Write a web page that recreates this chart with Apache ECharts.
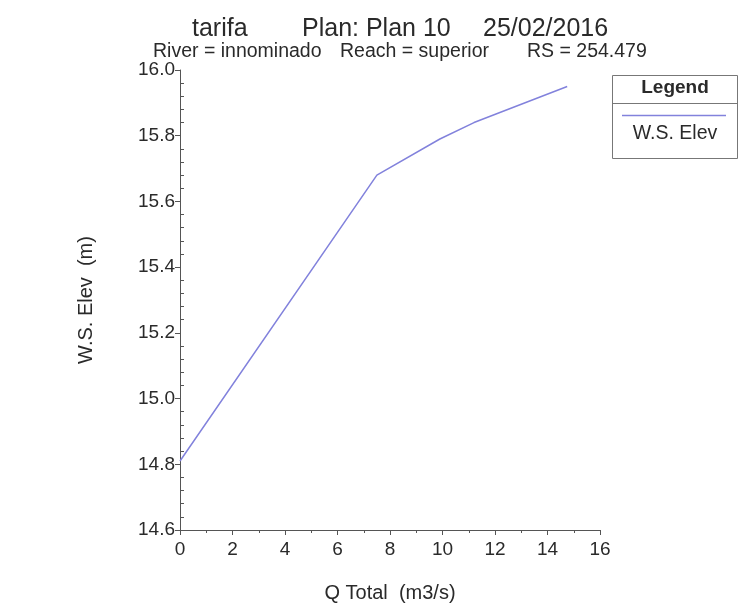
<!DOCTYPE html>
<html>
<head>
<meta charset="utf-8">
<script src="https://cdn.jsdelivr.net/npm/echarts@6/dist/echarts.min.js"></script>
<style>
html,body{margin:0;padding:0;background:#fff;}
#chart{width:741px;height:608px;}
</style>
</head>
<body>
<div id="chart"></div>
<script>
// Data
const seriesName = 'W.S. Elev';
const qTotal = [0, 7.5, 9.9, 11.2, 14.75];
const wsElev = [14.81, 15.68, 15.79, 15.84, 15.95];
const xTicks = [0, 2, 4, 6, 8, 10, 12, 14, 16];
const yTicks = [14.6, 14.8, 15.0, 15.2, 15.4, 15.6, 15.8, 16.0];

const FONT = '"Liberation Sans", Arial, sans-serif';
const TXT = '#2a2a2a';
const AX = '#555';
const LINE = '#8282dc';

const yMin = yTicks[0], yMax = yTicks[yTicks.length - 1];

const chart = echarts.init(document.getElementById('chart'));
chart.setOption({
  backgroundColor: '#fff',
  animation: false,
  grid: {left: 180, right: 141, top: 70, bottom: 77, containLabel: false},
  xAxis: {
    type: 'value',
    min: xTicks[0], max: xTicks[xTicks.length - 1], interval: 2,
    name: 'Q Total  (m3/s)', nameLocation: 'middle', nameGap: 53,
    nameTextStyle: {fontFamily: FONT, fontSize: 20, color: TXT},
    axisLine: {show: true, lineStyle: {color: AX, width: 1}},
    axisTick: {show: true, length: 5, lineStyle: {color: AX}},
    minorTick: {show: true, splitNumber: 2, length: 3, lineStyle: {color: AX}},
    splitLine: {show: false},
    axisLabel: {fontFamily: FONT, fontSize: 19, color: TXT, margin: 10}
  },
  yAxis: [{
    type: 'value',
    min: yMin, max: yMax, interval: 0.2,
    name: 'W.S. Elev  (m)', nameLocation: 'middle', nameGap: 84, nameRotate: 90,
    nameTextStyle: {fontFamily: FONT, fontSize: 20, color: TXT},
    axisLine: {show: true, lineStyle: {color: AX, width: 1}},
    axisTick: {show: true, length: 5, lineStyle: {color: AX}},
    minorTick: {show: false},
    splitLine: {show: false},
    axisLabel: {fontFamily: FONT, fontSize: 19, color: TXT, margin: 5,
      formatter: v => v.toFixed(1)}
  }, {
    type: 'value', position: 'left', offset: 0,
    min: yMin, max: yMax, interval: 0.2,
    axisLine: {show: false},
    axisTick: {show: false, inside: true},
    minorTick: {show: true, splitNumber: 5, length: 4, lineStyle: {color: AX}},
    axisLabel: {show: false},
    splitLine: {show: false}
  }],
  series: [{
    name: seriesName,
    type: 'line',
    data: qTotal.map((q, i) => [q, wsElev[i]]),
    symbol: 'none',
    lineStyle: {color: LINE, width: 1.5},
    itemStyle: {color: LINE}
  }],
  graphic: [
    {type: 'text', x: 192, y: 29, style: {text: 'tarifa',
      font: '25px ' + FONT, fill: TXT, textVerticalAlign: 'middle'}},
    {type: 'text', x: 302, y: 29, style: {text: 'Plan: Plan 10',
      font: '25px ' + FONT, fill: TXT, textVerticalAlign: 'middle'}},
    {type: 'text', x: 483, y: 29, style: {text: '25/02/2016',
      font: '25px ' + FONT, fill: TXT, textVerticalAlign: 'middle'}},
    {type: 'text', x: 153, y: 52, style: {text: 'River = innominado',
      font: '19.5px ' + FONT, fill: TXT, textVerticalAlign: 'middle'}},
    {type: 'text', x: 340, y: 52, style: {text: 'Reach = superior',
      font: '19.5px ' + FONT, fill: TXT, textVerticalAlign: 'middle'}},
    {type: 'text', x: 527, y: 52, style: {text: 'RS = 254.479',
      font: '19.5px ' + FONT, fill: TXT, textVerticalAlign: 'middle'}},
    {type: 'rect', shape: {x: 612.5, y: 75.5, width: 125, height: 83},
      style: {fill: '#fff', stroke: '#777', lineWidth: 1}},
    {type: 'line', shape: {x1: 612.5, y1: 103.5, x2: 737.5, y2: 103.5},
      style: {stroke: '#777', lineWidth: 1}},
    {type: 'text', x: 675, y: 88, style: {
      text: 'Legend', font: 'bold 19px ' + FONT, fill: TXT,
      textAlign: 'center', textVerticalAlign: 'middle'}},
    {type: 'line', shape: {x1: 622, y1: 115.5, x2: 726, y2: 115.5},
      style: {stroke: LINE, lineWidth: 1.5}},
    {type: 'text', x: 675, y: 134, style: {
      text: seriesName, font: '19.5px ' + FONT, fill: TXT,
      textAlign: 'center', textVerticalAlign: 'middle'}}
  ]
});
</script>
</body>
</html>
